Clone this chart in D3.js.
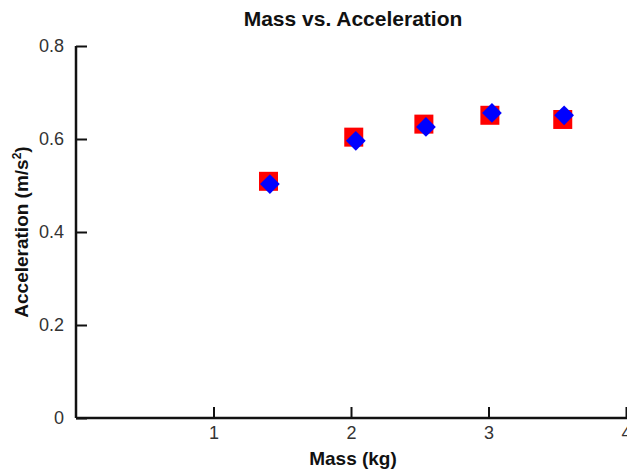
<!DOCTYPE html>
<html lang="en">
<head>
  <meta charset="UTF-8">
  <script src="https://d3js.org/d3.v7.min.js"></script>
  <style>
    body {
      margin: 0;
      padding: 0;
      background: #fff;
      font-family: "Liberation Sans", Arial, sans-serif;
      overflow: hidden;
    }
  </style>
</head>
<body>
  <div id="chart"></div>
  <script>
    const width = 627, height = 469;

    // series
    const squareMass = [1.40, 2.02, 2.53, 3.01, 3.54];
    const squareAccel = [0.509, 0.604, 0.632, 0.651, 0.642];
    const diamondMass = [1.41, 2.035, 2.545, 3.025, 3.55];
    const diamondAccel = [0.503, 0.596, 0.626, 0.656, 0.651];

    const xTicks = [1, 2, 3, 4];
    const yTicks = [0, 0.2, 0.4, 0.6, 0.8];

    const svg = d3.select("#chart")
      .append("svg")
      .attr("width", width)
      .attr("height", height);

    const x = d3.scaleLinear().domain([0, 4]).range([76, 626]);
    const y = d3.scaleLinear().domain([0, 0.8]).range([418, 46]);

    // title
    svg.append("text")
      .attr("x", 353)
      .attr("y", 26)
      .attr("text-anchor", "middle")
      .attr("font-size", 21)
      .attr("font-weight", "bold")
      .attr("fill", "#111")
      .text("Mass vs. Acceleration");

    // y axis, ticks pointing inward
    const yAxis = svg.append("g")
      .attr("transform", `translate(${x(0)},0)`)
      .call(d3.axisRight(y).tickValues(yTicks).tickSize(11).tickFormat(d3.format("")));
    yAxis.select(".domain").attr("stroke", "#111").attr("stroke-width", 2.5).attr("d", `M0,${y(0.8)}V${y(0)}`);
    yAxis.selectAll(".tick line").attr("stroke", "#111").attr("stroke-width", 2);
    yAxis.selectAll(".tick text")
      .attr("x", -12)
      .attr("text-anchor", "end")
      .attr("font-size", 18)
      .attr("font-family", "Liberation Sans, Arial, sans-serif")
      .attr("fill", "#333");

    // x axis
    const xAxis = svg.append("g")
      .attr("transform", `translate(0,${y(0)})`)
      .call(d3.axisTop(x).tickValues(xTicks).tickSize(11).tickFormat(d3.format("")));
    xAxis.select(".domain").attr("stroke", "#111").attr("stroke-width", 2.5).attr("d", `M${x(0)},0H${width}`);
    xAxis.selectAll(".tick line").attr("stroke", "#111").attr("stroke-width", 2);
    xAxis.selectAll(".tick text")
      .attr("y", 8)
      .attr("dy", "0.71em")
      .attr("font-size", 18)
      .attr("font-family", "Liberation Sans, Arial, sans-serif")
      .attr("fill", "#333");

    // axis titles
    svg.append("text")
      .attr("x", 353)
      .attr("y", 465)
      .attr("text-anchor", "middle")
      .attr("font-size", 19)
      .attr("font-weight", "bold")
      .attr("fill", "#111")
      .text("Mass (kg)");

    const yTitle = svg.append("text")
      .attr("transform", `translate(28,${y(0.4)}) rotate(-90)`)
      .attr("text-anchor", "middle")
      .attr("font-size", 19)
      .attr("font-weight", "bold")
      .attr("fill", "#111");
    yTitle.append("tspan").text("Acceleration (m/s");
    yTitle.append("tspan").attr("dy", -7).attr("font-size", 12).text("2");
    yTitle.append("tspan").attr("dy", 7).text(")");

    // red squares
    const squares = squareMass.map((m, i) => ({ m, a: squareAccel[i] }));
    svg.append("g")
      .selectAll("path")
      .data(squares)
      .enter()
      .append("path")
      .attr("transform", d => `translate(${x(d.m)},${y(d.a)})`)
      .attr("d", d3.symbol().type(d3.symbolSquare).size(19 * 19))
      .attr("fill", "#ff0000");

    // blue diamonds
    const diamonds = diamondMass.map((m, i) => ({ m, a: diamondAccel[i] }));
    svg.append("g")
      .selectAll("path")
      .data(diamonds)
      .enter()
      .append("path")
      .attr("transform", d => `translate(${x(d.m)},${y(d.a)}) rotate(45)`)
      .attr("d", d3.symbol().type(d3.symbolSquare).size(14 * 14))
      .attr("fill", "#0000ff");
  </script>
</body>
</html>
